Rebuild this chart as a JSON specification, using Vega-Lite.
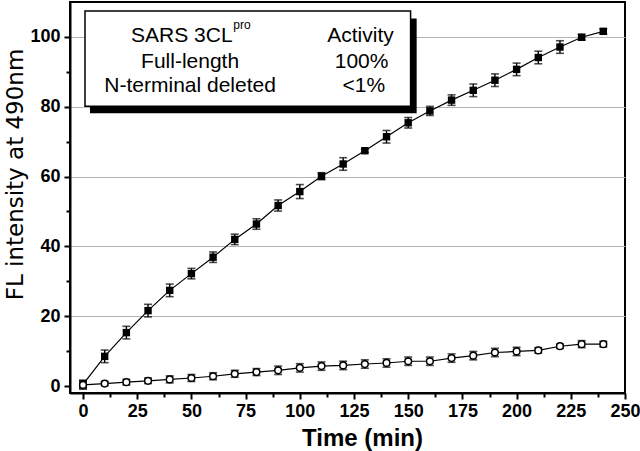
{
  "$schema": "https://vega.github.io/schema/vega-lite/v6.json",
  "autosize": "none",
  "width": 555,
  "height": 391,
  "padding": {"left": 70, "top": 2, "right": 15, "bottom": 58},
  "background": "white",
  "config": {
    "view": {"stroke": "black", "strokeWidth": 2},
    "font": "Liberation Sans"
  },
  "data": {
    "values": [
      {"t": 0, "series": "Full-length", "v": 0.5, "err": 1.2},
      {"t": 10, "series": "Full-length", "v": 8.5, "err": 1.8},
      {"t": 20, "series": "Full-length", "v": 15.3, "err": 1.8},
      {"t": 30, "series": "Full-length", "v": 21.6, "err": 1.8},
      {"t": 40, "series": "Full-length", "v": 27.4, "err": 1.8},
      {"t": 50, "series": "Full-length", "v": 32.2, "err": 1.5},
      {"t": 60, "series": "Full-length", "v": 36.9, "err": 1.5},
      {"t": 70, "series": "Full-length", "v": 42.0, "err": 1.5},
      {"t": 80, "series": "Full-length", "v": 46.4, "err": 1.5},
      {"t": 90, "series": "Full-length", "v": 51.7, "err": 1.6},
      {"t": 100, "series": "Full-length", "v": 55.7, "err": 2.0},
      {"t": 110, "series": "Full-length", "v": 60.1, "err": 1.0},
      {"t": 120, "series": "Full-length", "v": 63.6, "err": 1.8},
      {"t": 130, "series": "Full-length", "v": 67.4, "err": 0.5},
      {"t": 140, "series": "Full-length", "v": 71.4, "err": 1.8},
      {"t": 150, "series": "Full-length", "v": 75.4, "err": 1.5},
      {"t": 160, "series": "Full-length", "v": 78.8, "err": 1.3},
      {"t": 170, "series": "Full-length", "v": 81.9, "err": 1.5},
      {"t": 180, "series": "Full-length", "v": 84.7, "err": 1.8},
      {"t": 190, "series": "Full-length", "v": 87.6, "err": 1.8},
      {"t": 200, "series": "Full-length", "v": 90.7, "err": 1.8},
      {"t": 210, "series": "Full-length", "v": 94.1, "err": 1.8},
      {"t": 220, "series": "Full-length", "v": 97.1, "err": 1.8},
      {"t": 230, "series": "Full-length", "v": 99.9, "err": 0.8},
      {"t": 240, "series": "Full-length", "v": 101.6, "err": 0.7},
      {"t": 0, "series": "N-terminal deleted", "v": 0.3, "err": 1.2},
      {"t": 10, "series": "N-terminal deleted", "v": 0.7, "err": 0.6},
      {"t": 20, "series": "N-terminal deleted", "v": 1.1, "err": 0.8},
      {"t": 30, "series": "N-terminal deleted", "v": 1.5, "err": 0.8},
      {"t": 40, "series": "N-terminal deleted", "v": 1.9, "err": 1.0},
      {"t": 50, "series": "N-terminal deleted", "v": 2.3, "err": 1.0},
      {"t": 60, "series": "N-terminal deleted", "v": 2.8, "err": 1.0},
      {"t": 70, "series": "N-terminal deleted", "v": 3.5, "err": 1.0},
      {"t": 80, "series": "N-terminal deleted", "v": 4.0, "err": 1.0},
      {"t": 90, "series": "N-terminal deleted", "v": 4.5, "err": 1.2},
      {"t": 100, "series": "N-terminal deleted", "v": 5.2, "err": 1.2},
      {"t": 110, "series": "N-terminal deleted", "v": 5.7, "err": 1.2},
      {"t": 120, "series": "N-terminal deleted", "v": 5.9, "err": 1.2},
      {"t": 130, "series": "N-terminal deleted", "v": 6.3, "err": 1.2},
      {"t": 140, "series": "N-terminal deleted", "v": 6.6, "err": 1.2},
      {"t": 150, "series": "N-terminal deleted", "v": 7.1, "err": 1.2},
      {"t": 160, "series": "N-terminal deleted", "v": 7.1, "err": 1.2},
      {"t": 170, "series": "N-terminal deleted", "v": 8.0, "err": 1.2},
      {"t": 180, "series": "N-terminal deleted", "v": 8.7, "err": 1.2},
      {"t": 190, "series": "N-terminal deleted", "v": 9.6, "err": 1.2},
      {"t": 200, "series": "N-terminal deleted", "v": 9.9, "err": 1.2},
      {"t": 210, "series": "N-terminal deleted", "v": 10.2, "err": 0.8},
      {"t": 220, "series": "N-terminal deleted", "v": 11.4, "err": 0.6},
      {"t": 230, "series": "N-terminal deleted", "v": 12.0, "err": 1.0},
      {"t": 240, "series": "N-terminal deleted", "v": 12.0, "err": 0.8}
    ]
  },
  "encoding": {
    "x": {
      "field": "t",
      "type": "quantitative",
      "scale": {"domain": [-6, 250], "nice": false, "zero": false},
      "axis": {
        "title": "Time (min)",
        "titleFont": "Liberation Sans",
        "titleFontWeight": "bold",
        "titleFontSize": 24,
        "titleColor": "black",
        "titleX": 292,
        "titleY": 52,
        "titleBaseline": "alphabetic",
        "titleAlign": "center",
        "titleAnchor": "start",
        "values": [0, 12.5, 25, 37.5, 50, 62.5, 75, 87.5, 100, 112.5, 125, 137.5, 150, 162.5, 175, 187.5, 200, 212.5, 225, 237.5, 250],
        "labelExpr": "datum.value % 25 === 0 ? datum.label : ''",
        "labelOverlap": false,
        "labelFont": "Liberation Sans",
        "labelFontWeight": "bold",
        "labelFontSize": 18,
        "labelColor": "black",
        "labelBaseline": "alphabetic",
        "labelPadding": 17,
        "labelFlush": false,
        "tickColor": "black",
        "tickWidth": 2,
        "tickSize": {"condition": {"test": "datum.value % 25 === 0", "value": 6}, "value": 4},
        "domainColor": "black",
        "domainWidth": 2,
        "grid": false
      }
    },
    "y": {
      "field": "v",
      "type": "quantitative",
      "scale": {"domain": [-2, 110], "nice": false, "zero": false},
      "axis": {
        "title": "FL intensity at 490nm",
        "titleFont": "DejaVu Sans",
        "titleFontWeight": "normal",
        "titleFontSize": 23,
        "titleColor": "black",
        "titleX": -48,
        "titleY": 172,
        "titleAngle": 270,
        "titleAlign": "center",
        "titleAnchor": "start",
        "titleBaseline": "alphabetic",
        "values": [0, 10, 20, 30, 40, 50, 60, 70, 80, 90, 100],
        "labelExpr": "datum.value % 20 === 0 ? datum.label : ''",
        "labelOverlap": false,
        "labelFont": "Liberation Sans",
        "labelFontWeight": "bold",
        "labelFontSize": 18,
        "labelColor": "black",
        "labelPadding": 4,
        "labelFlush": false,
        "tickColor": "black",
        "tickWidth": 2,
        "tickSize": {"condition": {"test": "datum.value % 20 === 0", "value": 6}, "value": 4},
        "domainColor": "black",
        "domainWidth": 2,
        "grid": true,
        "gridColor": "#b4b4b4",
        "gridWidth": 1.2,
        "gridOpacity": {"condition": {"test": "datum.value % 20 === 0 && datum.value > 0", "value": 1}, "value": 0}
      }
    }
  },
  "layer": [
    {
      "mark": {"type": "line", "color": "black", "strokeWidth": 1.2},
      "encoding": {"detail": {"field": "series"}}
    },
    {
      "mark": {"type": "errorbar", "color": "black", "ticks": {"size": 8, "thickness": 1.6}, "rule": {"strokeWidth": 1.4}},
      "encoding": {
        "yError": {"field": "err"},
        "detail": {"field": "series"}
      }
    },
    {
      "transform": [{"filter": "datum.series === 'Full-length'"}],
      "mark": {"type": "point", "shape": "square", "filled": true, "color": "black", "size": 55, "opacity": 1}
    },
    {
      "transform": [{"filter": "datum.series === 'N-terminal deleted'"}],
      "mark": {"type": "point", "shape": "circle", "filled": true, "fill": "white", "stroke": "black", "strokeWidth": 1.5, "size": 45, "opacity": 1}
    },
    {
      "transform": [{"filter": "datum.t === 0 && datum.series === 'Full-length'"}],
      "mark": {"type": "rect", "fill": "black"},
      "encoding": {
        "x": {"datum": 3.2, "type": "quantitative"},
        "x2": {"datum": 153.9},
        "y": {"datum": 105.3, "type": "quantitative"},
        "y2": {"datum": 78.1}
      }
    },
    {
      "transform": [{"filter": "datum.t === 0 && datum.series === 'Full-length'"}],
      "mark": {"type": "rect", "fill": "white", "stroke": "black", "strokeWidth": 1.5},
      "encoding": {
        "x": {"datum": 0.92, "type": "quantitative"},
        "x2": {"datum": 151.1},
        "y": {"datum": 107.4, "type": "quantitative"},
        "y2": {"datum": 80.14}
      }
    },
    {
      "transform": [{"filter": "datum.t === 0 && datum.series === 'Full-length'"}],
      "mark": {"type": "text", "text": "SARS 3CL", "align": "right", "baseline": "alphabetic", "fontSize": 21, "fontWeight": "normal", "font": "Liberation Sans", "color": "black"},
      "encoding": {"x": {"datum": 69.0, "type": "quantitative"}, "y": {"datum": 98.5, "type": "quantitative"}}
    },
    {
      "transform": [{"filter": "datum.t === 0 && datum.series === 'Full-length'"}],
      "mark": {"type": "text", "text": "pro", "align": "left", "baseline": "alphabetic", "fontSize": 12, "fontWeight": "normal", "font": "Liberation Sans", "color": "black"},
      "encoding": {"x": {"datum": 69.3, "type": "quantitative"}, "y": {"datum": 102.2, "type": "quantitative"}}
    },
    {
      "transform": [{"filter": "datum.t === 0 && datum.series === 'Full-length'"}],
      "mark": {"type": "text", "text": "Full-length", "align": "center", "baseline": "alphabetic", "fontSize": 21, "fontWeight": "normal", "font": "Liberation Sans", "color": "black"},
      "encoding": {"x": {"datum": 49.4, "type": "quantitative"}, "y": {"datum": 91.0, "type": "quantitative"}}
    },
    {
      "transform": [{"filter": "datum.t === 0 && datum.series === 'Full-length'"}],
      "mark": {"type": "text", "text": "N-terminal deleted", "align": "center", "baseline": "alphabetic", "fontSize": 21, "fontWeight": "normal", "font": "Liberation Sans", "color": "black"},
      "encoding": {"x": {"datum": 49.4, "type": "quantitative"}, "y": {"datum": 84.1, "type": "quantitative"}}
    },
    {
      "transform": [{"filter": "datum.t === 0 && datum.series === 'Full-length'"}],
      "mark": {"type": "text", "text": "Activity", "align": "center", "baseline": "alphabetic", "fontSize": 21, "fontWeight": "normal", "font": "Liberation Sans", "color": "black"},
      "encoding": {"x": {"datum": 128.0, "type": "quantitative"}, "y": {"datum": 98.5, "type": "quantitative"}}
    },
    {
      "transform": [{"filter": "datum.t === 0 && datum.series === 'Full-length'"}],
      "mark": {"type": "text", "text": "100%", "align": "center", "baseline": "alphabetic", "fontSize": 21, "fontWeight": "normal", "font": "Liberation Sans", "color": "black"},
      "encoding": {"x": {"datum": 128.5, "type": "quantitative"}, "y": {"datum": 91.0, "type": "quantitative"}}
    },
    {
      "transform": [{"filter": "datum.t === 0 && datum.series === 'Full-length'"}],
      "mark": {"type": "text", "text": "<1%", "align": "center", "baseline": "alphabetic", "fontSize": 21, "fontWeight": "normal", "font": "Liberation Sans", "color": "black"},
      "encoding": {"x": {"datum": 129.5, "type": "quantitative"}, "y": {"datum": 84.1, "type": "quantitative"}}
    }
  ]
}
